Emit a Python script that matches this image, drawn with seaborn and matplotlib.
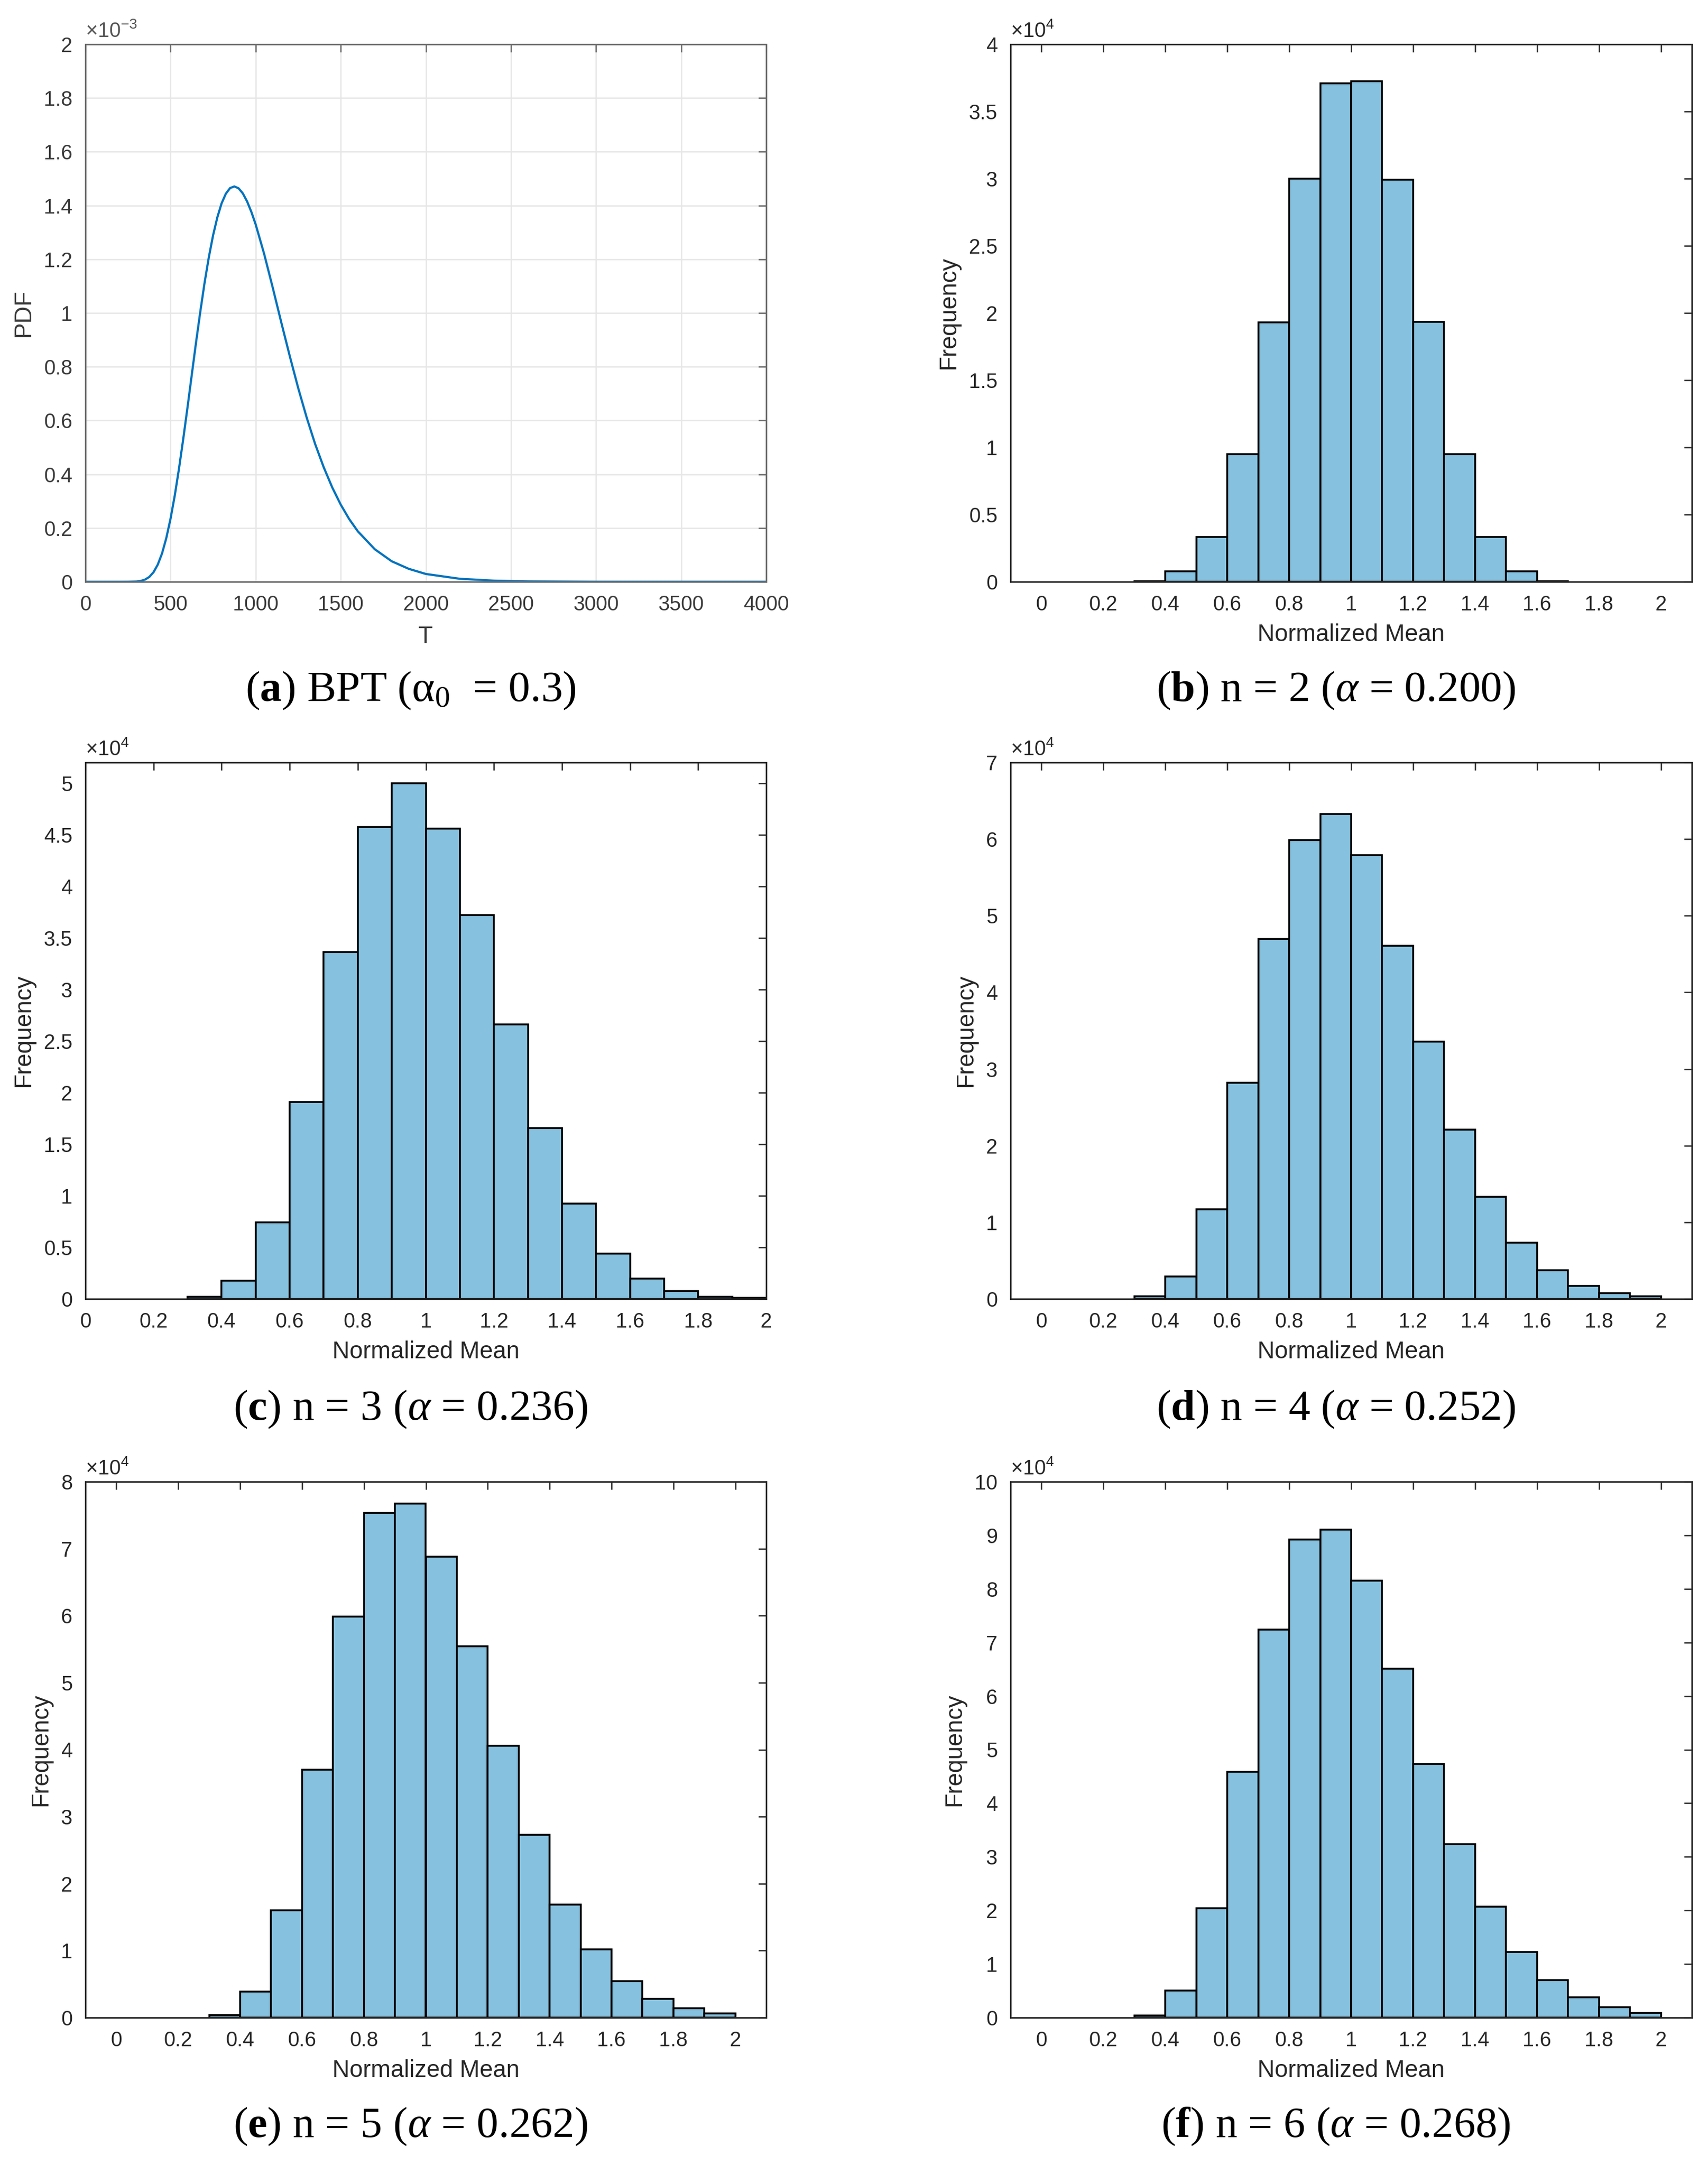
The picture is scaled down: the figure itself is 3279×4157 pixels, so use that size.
import matplotlib
matplotlib.use("Agg")
import matplotlib.pyplot as plt
import numpy as np
import pandas as pd
import seaborn as sns

# (a) BPT pdf (PDF in units of 1e-3)
BPT_T = [0, 200, 250, 300, 325, 350, 375, 400, 425, 450, 475, 500, 525, 550,
         575, 600, 625, 650, 675, 700, 725, 750, 775, 800, 825, 850, 875, 900,
         925, 950, 975, 1000, 1050, 1100, 1150, 1200, 1250, 1300, 1350, 1400,
         1450, 1500, 1550, 1600, 1700, 1800, 1900, 2000, 2200, 2400, 2600,
         3000, 4000]
BPT_PDF = [0, 0, 0.0001, 0.0009, 0.003, 0.0079, 0.0178, 0.0354, 0.0637, 0.105,
           0.162, 0.234, 0.321, 0.422, 0.533, 0.650, 0.771, 0.891, 1.005,
           1.112, 1.207, 1.289, 1.356, 1.408, 1.444, 1.465, 1.471, 1.464,
           1.445, 1.415, 1.376, 1.330, 1.220, 1.096, 0.967, 0.841, 0.721,
           0.611, 0.512, 0.426, 0.351, 0.287, 0.233, 0.188, 0.121, 0.076,
           0.048, 0.029, 0.011, 0.004, 0.0013, 0.0001, 0]

# histogram bins of the normalized mean
BIN_LEFT = [0.0, 0.1, 0.2, 0.3, 0.4, 0.5, 0.6, 0.7, 0.8, 0.9,
            1.0, 1.1, 1.2, 1.3, 1.4, 1.5, 1.6, 1.7, 1.8, 1.9]
BIN_WIDTH = 0.1

# frequencies, units of 1e4
FREQ_N2 = [0, 0, 0, 0.005, 0.076, 0.335, 0.948, 1.932, 2.999, 3.708,
           3.725, 2.993, 1.935, 0.948, 0.335, 0.076, 0.005, 0, 0, 0]
FREQ_N3 = [0, 0, 0, 0.018, 0.177, 0.740, 1.906, 3.360, 4.574, 4.996,
           4.557, 3.723, 2.660, 1.658, 0.922, 0.439, 0.195, 0.075, 0.022, 0.009]
FREQ_N4 = [0, 0, 0, 0.036, 0.292, 1.170, 2.823, 4.697, 5.986, 6.326,
           5.789, 4.607, 3.360, 2.208, 1.331, 0.734, 0.376, 0.167, 0.078, 0.036]
FREQ_N5 = [0, 0, 0, 0.035, 0.387, 1.603, 3.703, 5.990, 7.530, 7.675,
           6.881, 5.547, 4.055, 2.729, 1.686, 1.016, 0.546, 0.276, 0.138, 0.062]
FREQ_N6 = [0, 0, 0, 0.035, 0.501, 2.038, 4.585, 7.237, 8.921, 9.110,
           8.152, 6.511, 4.732, 3.238, 2.073, 1.226, 0.699, 0.380, 0.199, 0.086]

CAPTIONS = [
    r"($\mathbf{a}$) BPT ($\mathrm{\alpha}_0$  = 0.3)",
    r"($\mathbf{b}$) n = 2 ($\alpha$ = 0.200)",
    r"($\mathbf{c}$) n = 3 ($\alpha$ = 0.236)",
    r"($\mathbf{d}$) n = 4 ($\alpha$ = 0.252)",
    r"($\mathbf{e}$) n = 5 ($\alpha$ = 0.262)",
    r"($\mathbf{f}$) n = 6 ($\alpha$ = 0.268)",
]

HISTS = [
    (FREQ_N2, 4, 0.5, (-0.1, 2.1)),
    (FREQ_N3, 5.2, 0.5, (0, 2)),
    (FREQ_N4, 7, 1, (-0.1, 2.1)),
    (FREQ_N5, 8, 1, (-0.1, 2.1)),
    (FREQ_N6, 10, 1, (-0.1, 2.1)),
]

BAR_COLOR = "#86C1DF"
LINE_COLOR = "#0072BD"
DARK = "#262626"

sns.set_style("white")
plt.rcParams["font.family"] = ["Liberation Sans", "DejaVu Sans"]
plt.rcParams["mathtext.fontset"] = "custom"
plt.rcParams["mathtext.rm"] = "Liberation Serif"
plt.rcParams["mathtext.it"] = "Liberation Serif:italic"
plt.rcParams["mathtext.bf"] = "Liberation Serif:bold"
plt.rcParams["mathtext.sf"] = "Liberation Sans"

W, H = 3279, 4157
fig = plt.figure(figsize=(W / 300, H / 300), dpi=300)

COLS = [(164, 1471), (1940, 3248)]
ROWS = [(85, 1117), (1464, 2494), (2845, 3874)]
CAP_X = [788, 2565]
CAP_Y = [1326, 2706, 4083]


def make_ax(i):
    l, r = COLS[i % 2]
    t, b = ROWS[i // 2]
    return fig.add_axes([l / W, 1 - b / H, (r - l) / W, (b - t) / H])


def style_ax(ax, color, tick_color):
    for s in ax.spines.values():
        s.set_visible(True)
        s.set_color(color)
        s.set_linewidth(0.7)
    ax.tick_params(direction="in", top=True, right=True, length=3.5,
                   width=0.6, color=color, labelcolor=tick_color,
                   labelsize=9.5, pad=6)


def offset_text(ax, txt, color):
    ax.text(0.0, 1.006, txt, transform=ax.transAxes, ha="left", va="bottom",
            fontsize=9.5, color=color)


# (a) BPT pdf
ax = make_ax(0)
df_a = pd.DataFrame({"T": BPT_T, "PDF": BPT_PDF})
sns.lineplot(data=df_a, x="T", y="PDF", ax=ax, color=LINE_COLOR, linewidth=1.0)
ax.set_xlim(0, 4000)
ax.set_ylim(0, 2)
ax.set_xticks(np.arange(0, 4001, 500))
ax.set_yticks(np.arange(0, 2.01, 0.2))
ax.yaxis.set_major_formatter(matplotlib.ticker.FormatStrFormatter("%g"))
ax.grid(True, color="#e6e6e6", linewidth=0.6)
ax.set_axisbelow(True)
style_ax(ax, "#6a6a6a", "#3a3a3a")
ax.set_xlabel("T", fontsize=11, color="#3a3a3a", labelpad=5)
ax.set_ylabel("PDF", fontsize=11, color="#3a3a3a")
offset_text(ax, r"$\mathsf{\times10^{-3}}$", "#555555")

# (b)-(f) histograms
for i, (freq, ymax, ystep, xlim) in enumerate(HISTS, start=1):
    ax = make_ax(i)
    df = pd.DataFrame({"x": np.array(BIN_LEFT) + BIN_WIDTH / 2, "f": freq})
    edges = list(BIN_LEFT) + [BIN_LEFT[-1] + BIN_WIDTH]
    sns.histplot(data=df, x="x", weights="f", bins=edges, ax=ax,
                 color=BAR_COLOR, alpha=1, edgecolor="black", linewidth=0.85)
    # empty bins draw nothing in the original
    for p in list(ax.patches):
        if p.get_height() == 0:
            p.remove()
    ax.set_xlim(*xlim)
    ax.set_ylim(0, ymax)
    ax.set_xticks(np.arange(0, 2.01, 0.2))
    ax.set_yticks(np.arange(0, int(ymax) + 0.001, ystep))
    ax.xaxis.set_major_formatter(matplotlib.ticker.FormatStrFormatter("%g"))
    ax.yaxis.set_major_formatter(matplotlib.ticker.FormatStrFormatter("%g"))
    style_ax(ax, DARK, DARK)
    ax.set_xlabel("Normalized Mean", fontsize=11, color=DARK, labelpad=4)
    ax.set_ylabel("Frequency", fontsize=11, color=DARK)
    offset_text(ax, r"$\mathsf{\times10^{4}}$", DARK)

for i, cap in enumerate(CAPTIONS):
    fig.text(CAP_X[i % 2] / W, 1 - CAP_Y[i // 2] / H, cap, ha="center",
             va="center", fontsize=20, fontfamily="Liberation Serif",
             color="black")

fig.savefig("out.png", dpi=300)
